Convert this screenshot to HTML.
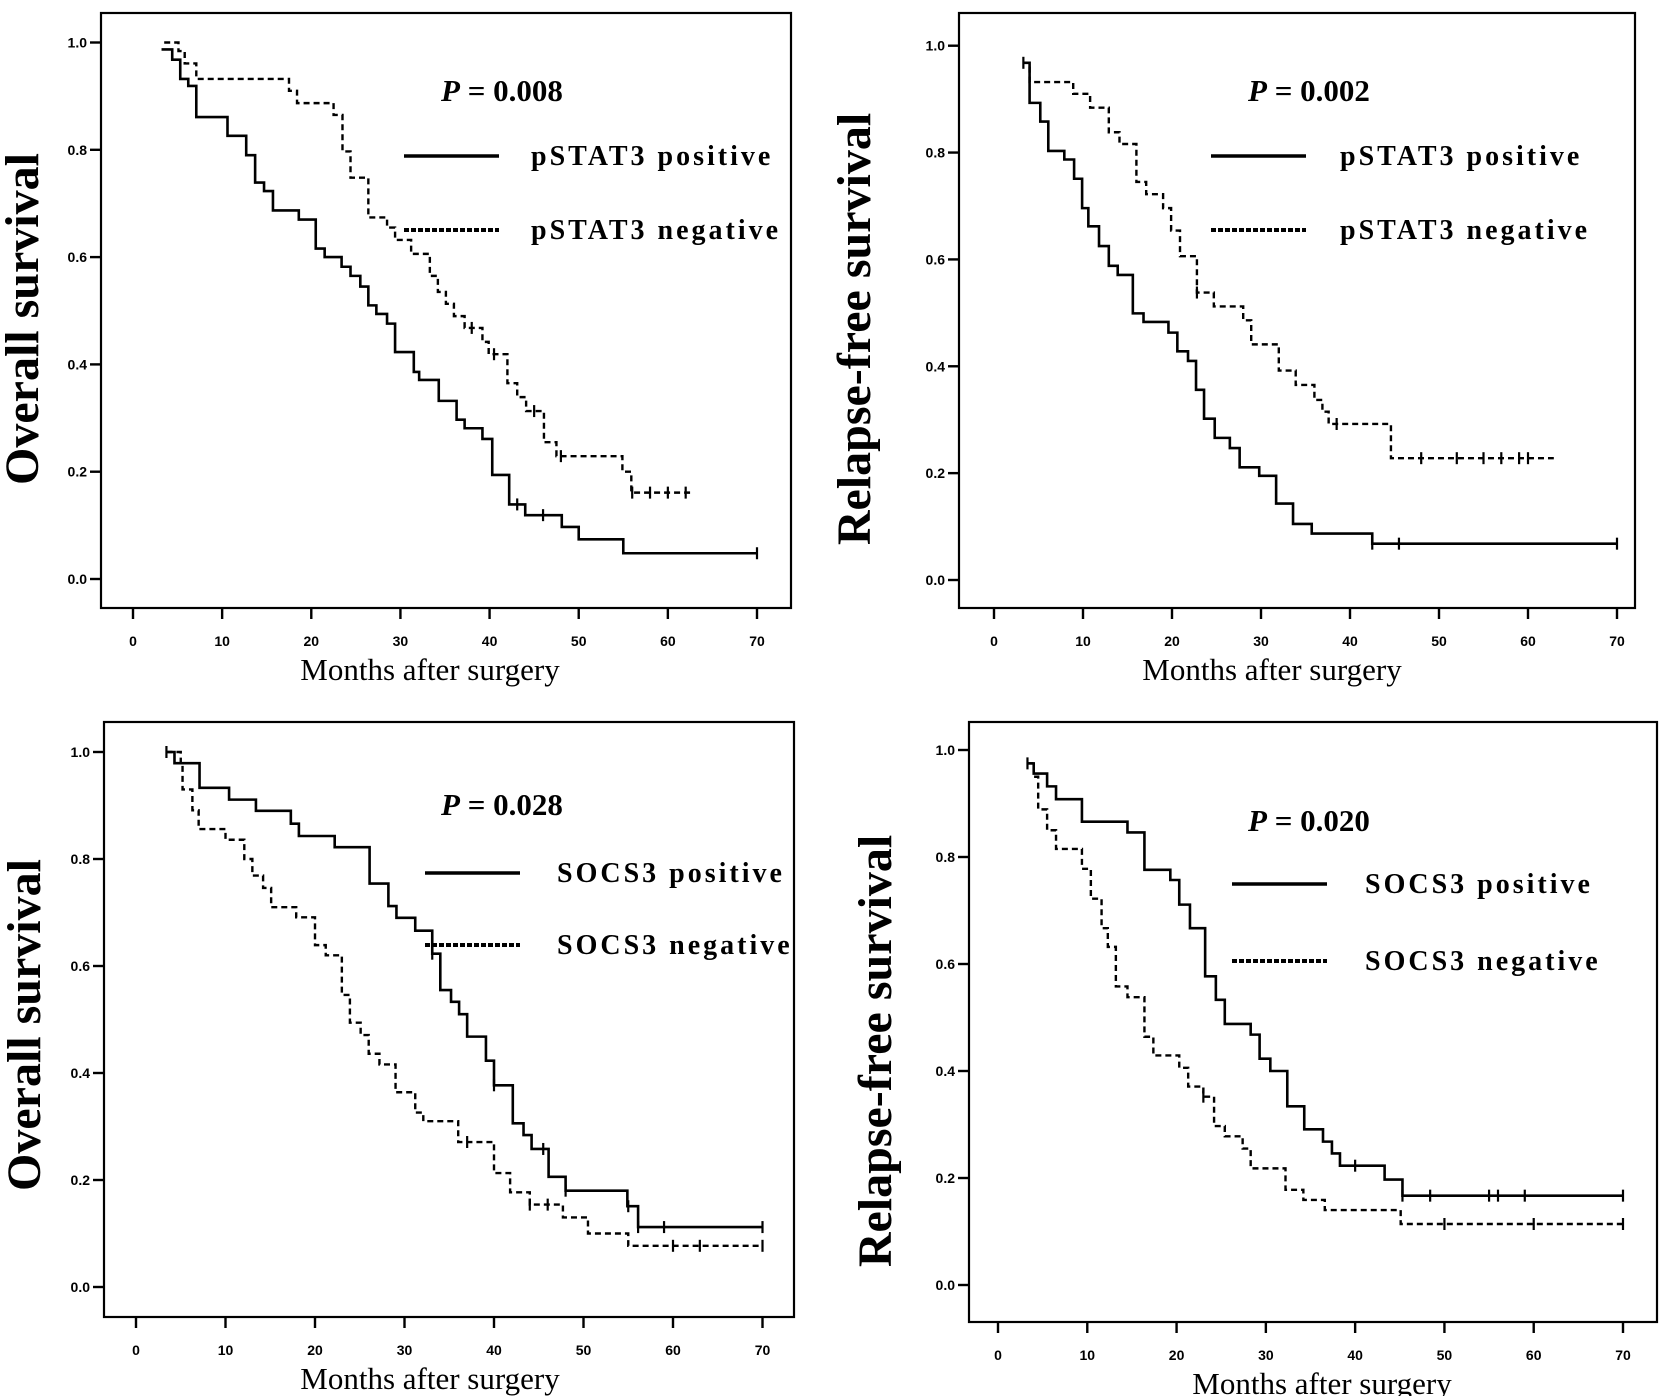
<!DOCTYPE html>
<html><head><meta charset="utf-8"><style>
html,body{margin:0;padding:0;background:#fff;}
svg{display:block;}
.tk{font-family:"Liberation Sans",Arial,sans-serif;font-weight:bold;font-size:14px;}
.ttl{font-family:"Liberation Serif",serif;font-size:31px;}
.yt{font-family:"Liberation Serif",serif;font-weight:bold;font-size:48px;}
.pv{font-family:"Liberation Serif",serif;font-weight:bold;font-size:31px;}
.lg{font-family:"Liberation Serif",serif;font-weight:bold;font-size:28px;letter-spacing:3px;}
</style></head><body>
<svg id="fig" width="1665" height="1396" viewBox="0 0 1665 1396"></svg>
<script>
// ---- data (months, survival) ----
const xTicks=[0,10,20,30,40,50,60,70];
const yTicks=[0.0,0.2,0.4,0.6,0.8,1.0];
const yTickLabels=["0.0","0.2","0.4","0.6","0.8","1.0"];

const p1PosT=[3.2,4.4,5.3,6.2,7.1,10.6,12.7,13.7,14.7,15.7,18.6,20.5,21.5,23.4,24.4,25.5,26.4,27.3,28.5,29.4,31.5,32.1,34.3,36.3,37.2,39.2,40.3,42.2,44.0,48.1,50.0,55.0];
const p1PosS=[0.987,0.968,0.932,0.919,0.861,0.826,0.79,0.739,0.723,0.687,0.67,0.616,0.6,0.582,0.565,0.545,0.51,0.494,0.476,0.423,0.386,0.371,0.332,0.297,0.281,0.261,0.194,0.139,0.119,0.097,0.074,0.048];
const p1PosEnd=70;
const p1PosCens=[43.1,46.0,70];
const p1NegT=[3.5,5.1,5.8,7.1,17.5,18.4,22.5,23.5,24.4,26.4,28.5,29.4,31.2,33.3,34.2,35.1,36.0,37.2,39.2,39.9,42.0,43.1,44.1,46.1,47.5,54.9,55.9];
const p1NegS=[1.0,0.984,0.961,0.932,0.91,0.887,0.865,0.797,0.748,0.674,0.655,0.632,0.606,0.565,0.535,0.513,0.49,0.468,0.442,0.419,0.365,0.339,0.313,0.255,0.229,0.2,0.161];
const p1NegEnd=62.9;
const p1NegCens=[38,40.5,45,48,56,58,60,62];

const p2PosT=[3.3,4.0,5.2,6.1,7.9,9.0,9.9,10.6,11.8,12.9,13.9,15.6,16.8,19.6,20.6,21.8,22.7,23.6,24.8,26.5,27.6,29.8,31.7,33.6,35.7,42.5];
const p2PosS=[0.968,0.893,0.858,0.803,0.787,0.751,0.696,0.662,0.625,0.588,0.571,0.499,0.483,0.463,0.428,0.41,0.356,0.302,0.266,0.247,0.211,0.195,0.143,0.105,0.087,0.068];
const p2PosEnd=70;
const p2PosCens=[42.5,45.5,70];
const p2NegT=[3.3,4.0,8.9,10.8,12.9,14.1,16.0,17.1,19.0,19.9,20.9,22.8,24.7,28.0,28.9,32.0,33.9,36.0,36.9,37.6,44.6];
const p2NegS=[0.968,0.932,0.91,0.884,0.838,0.816,0.745,0.722,0.696,0.654,0.606,0.538,0.512,0.486,0.441,0.392,0.365,0.337,0.315,0.292,0.228];
const p2NegEnd=62.9;
const p2NegCens=[3.3,22.8,38.5,48,52,55,57,59,60];

const p3PosT=[3.4,4.3,7.1,10.4,13.4,17.3,18.2,22.2,26.1,28.2,29.1,31.2,33.1,34.0,35.2,36.1,37.0,39.1,40.0,42.1,43.3,44.2,46.1,48.0,54.9,56.1];
const p3PosS=[1.0,0.979,0.933,0.911,0.89,0.866,0.843,0.822,0.754,0.712,0.69,0.666,0.623,0.555,0.533,0.51,0.468,0.423,0.377,0.306,0.284,0.258,0.206,0.18,0.151,0.112];
const p3PosEnd=70;
const p3PosCens=[3.4,33.1,40,45.5,48,55,56.1,59,70];
const p3NegT=[3.4,5.0,5.2,6.3,7.0,10.0,12.1,13.0,14.2,15.1,17.9,20.0,21.2,23.0,23.9,25.1,26.0,27.2,29.0,31.2,32.1,36.0,40.0,41.8,44.0,47.7,50.5,55.0];
const p3NegS=[1.0,0.979,0.93,0.891,0.856,0.836,0.8,0.769,0.746,0.71,0.691,0.639,0.62,0.546,0.494,0.471,0.436,0.416,0.364,0.326,0.31,0.271,0.213,0.177,0.154,0.13,0.1,0.077];
const p3NegEnd=70;
const p3NegCens=[37,44,46,60,63,70];

const p4PosT=[3.3,4.0,5.5,6.5,9.4,14.5,16.4,19.3,20.3,21.5,23.2,24.4,25.4,28.3,29.3,30.5,32.4,34.3,36.4,37.4,38.3,43.3,45.3];
const p4PosS=[0.975,0.956,0.932,0.908,0.866,0.846,0.776,0.757,0.711,0.667,0.577,0.533,0.488,0.468,0.423,0.4,0.334,0.291,0.268,0.246,0.223,0.197,0.167];
const p4PosEnd=70;
const p4PosCens=[40,45.3,48.4,55,56,59,70];
const p4NegT=[3.3,4.0,4.5,5.5,6.5,9.4,10.4,11.6,12.3,13.2,14.5,16.4,17.4,20.3,21.3,23.0,24.2,25.4,27.4,28.3,32.2,34.2,36.6,45.1];
const p4NegS=[0.975,0.95,0.889,0.85,0.815,0.778,0.722,0.667,0.632,0.558,0.538,0.464,0.429,0.406,0.371,0.352,0.297,0.278,0.255,0.218,0.178,0.159,0.14,0.114];
const p4NegEnd=70;
const p4NegCens=[3.3,23,50,60,70];

const NS="http://www.w3.org/2000/svg";
const svg=document.getElementById('fig');
function mk(tag,attrs,parent){const e=document.createElementNS(NS,tag);for(const k in attrs)e.setAttribute(k,attrs[k]);(parent||svg).appendChild(e);return e;}

function stepVal(T,S,t){let v=S[0];for(let i=0;i<T.length;i++){if(T[i]<=t)v=S[i];}return v;}

function drawPanel(cfg){
  const g=mk('g',{});
  
  
  const xs=t=>cfg.x0+(cfg.x70-cfg.x0)*t/70;
  const ys=v=>cfg.y0+(cfg.y1-cfg.y0)*v;
  const box=mk('rect',{x:cfg.L,y:cfg.T,width:cfg.R-cfg.L,height:cfg.B-cfg.T,fill:'none',stroke:'#000','stroke-width':2.2},g);
  
  
  xTicks.forEach(t=>{
    const l=mk('line',{x1:xs(t),x2:xs(t),y1:cfg.B,y2:cfg.B+11,stroke:'#000','stroke-width':2.4},g);
    
    
    const tx=mk('text',{x:xs(t),y:cfg.B+38,'text-anchor':'middle',class:'tk'},g);
    
    
    tx.textContent=String(t);
  });
  yTicks.forEach((v,i)=>{
    const l=mk('line',{x1:cfg.L-11,x2:cfg.L,y1:ys(v),y2:ys(v),stroke:'#000','stroke-width':2.4},g);
    
    
    const tx=mk('text',{x:cfg.L-14,y:ys(v)+5,'text-anchor':'end',class:'tk'},g);
    
    
    tx.textContent=yTickLabels[i];
  });
  const xt=mk('text',{x:cfg.xtx,y:cfg.B+72,'text-anchor':'middle',class:'ttl'},g);
  
  
  xt.textContent='Months after surgery';
  const yt=mk('text',{x:0,y:0,'text-anchor':'middle',class:'yt',transform:`translate(${cfg.ytx},${cfg.yty}) rotate(-90)`},g);
  
  
  yt.textContent=cfg.ytitle;
  const pv=mk('text',{x:cfg.px,y:cfg.py,class:'pv'},g);
  
  
  pv.innerHTML='<tspan font-style="italic">P</tspan> = '+cfg.p;
  cfg.series.forEach(s=>{
    let d=`M${xs(s.T[0])},${ys(s.S[0])}`;
    for(let i=1;i<s.T.length;i++){d+=` H${xs(s.T[i])} V${ys(s.S[i])}`;}
    d+=` H${xs(s.end)}`;
    const p=mk('path',{d:d,fill:'none',stroke:'#000','stroke-width':s.dash?2.4:2.6,'stroke-dasharray':s.dash?'6,4':'none'},g);
    
    
    s.cens.forEach(t=>{
      const v=stepVal(s.T,s.S,t);
      const c=mk('line',{x1:xs(t),x2:xs(t),y1:ys(v)-6,y2:ys(v)+6,stroke:'#000','stroke-width':2.2},g);
      
      
    });
  });
  const l1=mk('line',{x1:cfg.lx1,x2:cfg.lx2,y1:cfg.ly1,y2:cfg.ly1,stroke:'#000','stroke-width':3.5},g);
  
  
  const l2=mk('line',{x1:cfg.lx1,x2:cfg.lx2,y1:cfg.ly2,y2:cfg.ly2,stroke:'#000','stroke-width':4,'stroke-dasharray':'5,2'},g);
  
  
  const t1=mk('text',{x:cfg.ltx,y:cfg.ly1+9,class:'lg'},g);
  
  
  t1.textContent=cfg.gene+' positive';
  const t2=mk('text',{x:cfg.ltx,y:cfg.ly2+9,class:'lg'},g);
  
  
  t2.textContent=cfg.gene+'  negative';
}

drawPanel({name:'panel-pstat3-overall',L:101,R:791,T:13,B:608,x0:133,x70:757,y0:579,y1:42.5,
  ytitle:'Overall survival',ytx:38,yty:319,xtx:430,p:'0.008',px:441,py:101,gene:'pSTAT3',
  lx1:404,lx2:499,ly1:156,ly2:230,ltx:531,
  series:[{name:'pstat3-positive',T:p1PosT,S:p1PosS,end:p1PosEnd,cens:p1PosCens,dash:false},
          {name:'pstat3-negative',T:p1NegT,S:p1NegS,end:p1NegEnd,cens:p1NegCens,dash:true}]});
drawPanel({name:'panel-pstat3-relapse',L:959,R:1635,T:13,B:608,x0:994,x70:1617,y0:580,y1:45.7,
  ytitle:'Relapse-free survival',ytx:870,yty:329,xtx:1272,p:'0.002',px:1248,py:101,gene:'pSTAT3',
  lx1:1211,lx2:1306,ly1:156,ly2:230,ltx:1340,
  series:[{name:'pstat3-positive',T:p2PosT,S:p2PosS,end:p2PosEnd,cens:p2PosCens,dash:false},
          {name:'pstat3-negative',T:p2NegT,S:p2NegS,end:p2NegEnd,cens:p2NegCens,dash:true}]});
drawPanel({name:'panel-socs3-overall',L:104,R:794,T:722,B:1317,x0:136,x70:762.5,y0:1287,y1:752,
  ytitle:'Overall survival',ytx:40,yty:1025,xtx:430,p:'0.028',px:441,py:815,gene:'SOCS3',
  lx1:425,lx2:520,ly1:873,ly2:945,ltx:557,
  series:[{name:'socs3-positive',T:p3PosT,S:p3PosS,end:p3PosEnd,cens:p3PosCens,dash:false},
          {name:'socs3-negative',T:p3NegT,S:p3NegS,end:p3NegEnd,cens:p3NegCens,dash:true}]});
drawPanel({name:'panel-socs3-relapse',L:969,R:1657,T:722,B:1322,x0:998,x70:1623,y0:1285,y1:750,
  ytitle:'Relapse-free survival',ytx:891,yty:1051,xtx:1322,p:'0.020',px:1248,py:831,gene:'SOCS3',
  lx1:1232,lx2:1327,ly1:884,ly2:961,ltx:1365,
  series:[{name:'socs3-positive',T:p4PosT,S:p4PosS,end:p4PosEnd,cens:p4PosCens,dash:false},
          {name:'socs3-negative',T:p4NegT,S:p4NegS,end:p4NegEnd,cens:p4NegCens,dash:true}]});
</script>
</body></html>
